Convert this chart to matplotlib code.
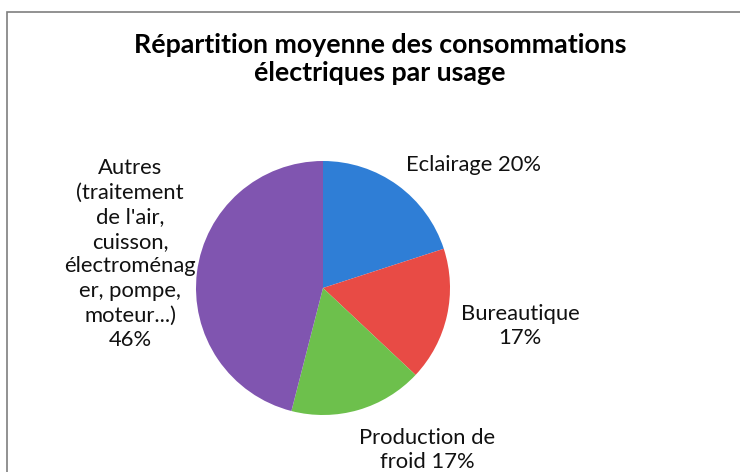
import matplotlib
matplotlib.use("Agg")
import matplotlib.pyplot as plt
from matplotlib.patches import Rectangle

categories = ["Eclairage", "Bureautique", "Production de froid",
              "Autres (traitement de l'air, cuisson, électroménager, pompe, moteur...)"]
values = [20, 17, 17, 46]
labels = ["Eclairage 20%", "Bureautique\n17%", "Production de\nfroid 17%",
          "Autres\n(traitement\nde l'air,\ncuisson,\nélectroménag\ner, pompe,\nmoteur...)\n46%"]
colors = ["#2F7ED6", "#E84B45", "#6DC04C", "#8055B0"]

plt.rcParams['font.family'] = ['Lato', 'DejaVu Sans']

W, H = 740, 472
fig = plt.figure(figsize=(W / 100, H / 100), dpi=100)
fig.patch.set_facecolor("white")

# border
fig.add_artist(Rectangle((7 / W, -0.1), 1.2, (H - 12) / H + 0.1, transform=fig.transFigure,
                         fill=False, edgecolor="#7f7f7f", linewidth=1.2))

cx, cy, r = 323, 288, 127
ax = fig.add_axes([(cx - r) / W, (H - cy - r) / H, 2 * r / W, 2 * r / H])
ax.pie(values, colors=colors, startangle=90, counterclock=False, radius=1,
       wedgeprops=dict(linewidth=0))
ax.set_xlim(-1, 1)
ax.set_ylim(-1, 1)
ax.set_aspect("equal")
ax.axis("off")

fig.text(380 / W, 1 - 59 / H, "Répartition moyenne des consommations\nélectriques par usage",
         ha="center", va="center", fontsize=19.3, fontweight="bold", linespacing=1.16)

lab_pos = [(474, 165), (520, 326), (427, 450), (130, 254)]
for (x, y), lab in zip(lab_pos, labels):
    fig.text(x / W, 1 - y / H, lab, ha="center", va="center", fontsize=15.8,
             linespacing=1.29, color="#111111")

fig.savefig("out.png", dpi=100)
